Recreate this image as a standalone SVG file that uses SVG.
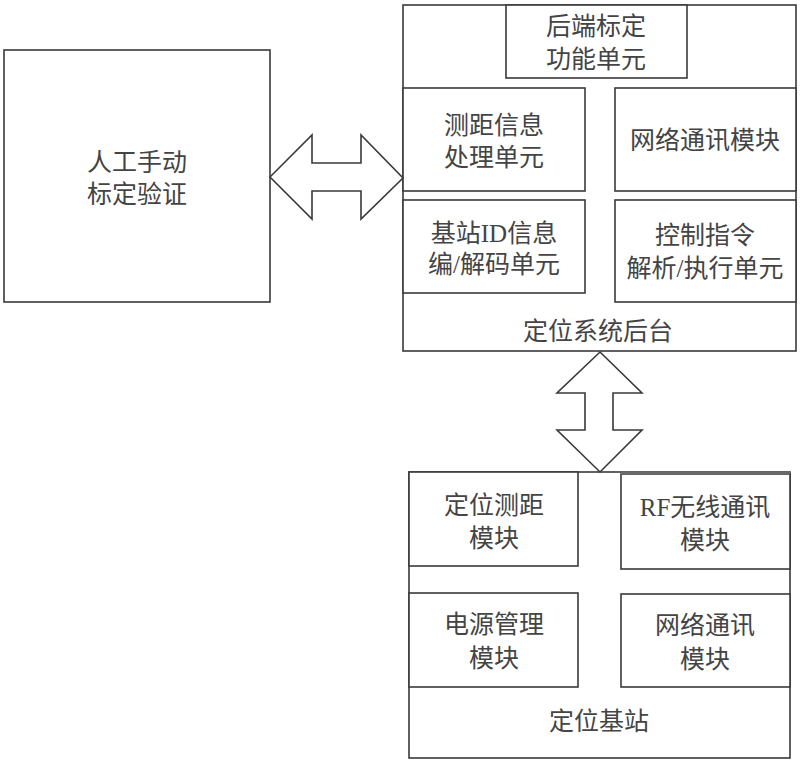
<svg xmlns="http://www.w3.org/2000/svg" width="800" height="765" viewBox="0 0 800 765">
<style>
.b{fill:#fff;stroke:#3a3a3a;stroke-width:1.6}
.a{fill:#fff;stroke:#3a3a3a;stroke-width:1.6;stroke-linejoin:miter}
text{font-family:"Liberation Serif","Noto Sans CJK SC",serif;font-size:25px;fill:#444;text-anchor:middle;dominant-baseline:central}
</style>
<rect width="800" height="765" fill="#fff"/>
<g id="manual">
<rect class="b" x="4" y="50" width="266" height="252"/>
<text x="137" y="162">人工手动</text>
<text x="137" y="194">标定验证</text>
</g>
<g id="backend">
<rect class="b" x="403" y="5" width="393" height="346"/>
<text x="598" y="331">定位系统后台</text>
</g>
<g id="calib">
<rect class="b" x="506" y="5" width="181" height="73"/>
<text x="596" y="26">后端标定</text>
<text x="596" y="59">功能单元</text>
</g>
<g id="ranging-info">
<rect class="b" x="403" y="88" width="182" height="103"/>
<text x="494" y="125">测距信息</text>
<text x="494" y="157">处理单元</text>
</g>
<g id="net1">
<rect class="b" x="615" y="88" width="181" height="103"/>
<text x="705" y="140">网络通讯模块</text>
</g>
<g id="id-codec">
<rect class="b" x="403" y="200" width="182" height="93"/>
<text x="494" y="233">基站ID信息</text>
<text x="494" y="264">编/解码单元</text>
</g>
<g id="cmd">
<rect class="b" x="615" y="200" width="181" height="102"/>
<text x="705" y="235">控制指令</text>
<text x="705" y="268">解析/执行单元</text>
</g>
<g id="station">
<rect class="b" x="409" y="472" width="381" height="286"/>
<text x="599" y="721">定位基站</text>
</g>
<g id="pos-ranging">
<rect class="b" x="409" y="472" width="169" height="94"/>
<text x="494" y="505">定位测距</text>
<text x="494" y="538">模块</text>
</g>
<g id="rf">
<rect class="b" x="621" y="474" width="169" height="95"/>
<line x1="621" y1="473" x2="790" y2="473" stroke="#6a6a6a" stroke-width="3"/>
<text x="705" y="507">RF无线通讯</text>
<text x="705" y="540">模块</text>
</g>
<g id="power">
<rect class="b" x="409" y="593" width="169" height="94"/>
<text x="494" y="624">电源管理</text>
<text x="494" y="658">模块</text>
</g>
<g id="net2">
<rect class="b" x="621" y="594" width="169" height="93"/>
<text x="705" y="625">网络通讯</text>
<text x="705" y="659">模块</text>
</g>
<g id="connectors">
<polygon class="a" points="270,177 312,135 312,163 361,163 361,135 403,178 361,219 361,191 312,191 312,219"/>
<polygon class="a" points="600,352 642,393 613,393 613,430 642,430 600,472 557,430 585,430 585,393 557,393"/>
</g>
</svg>
